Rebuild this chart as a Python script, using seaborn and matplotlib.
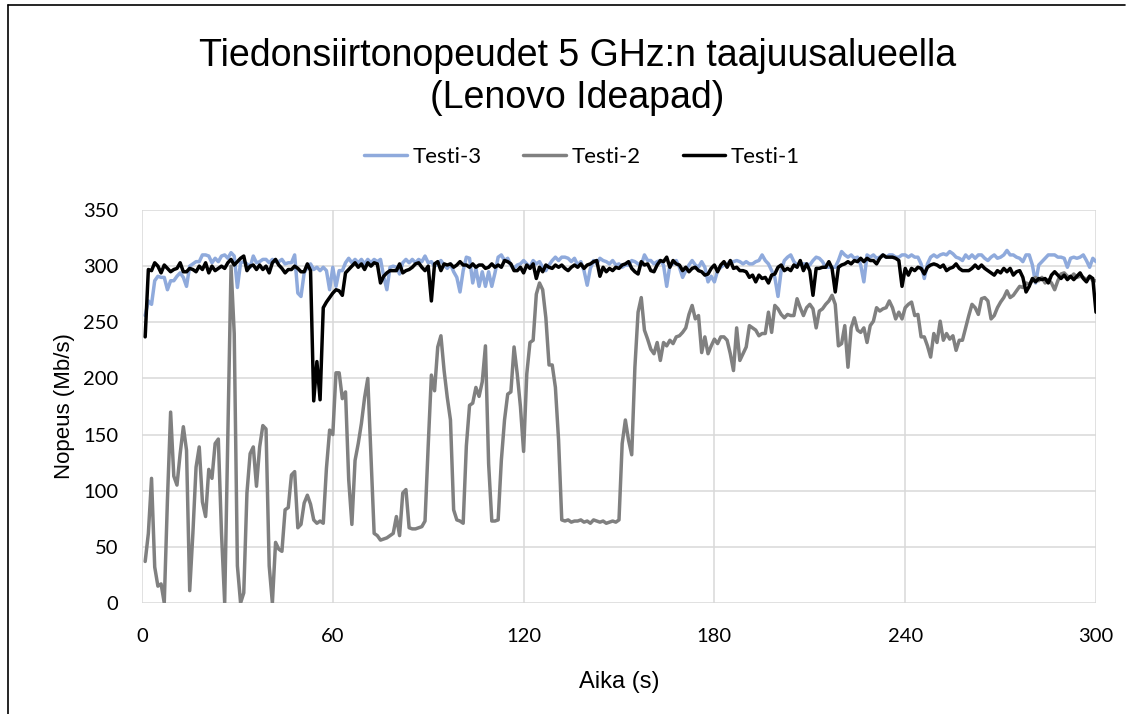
import numpy as np
import pandas as pd
import matplotlib
matplotlib.use("Agg")
import matplotlib.pyplot as plt
from matplotlib.lines import Line2D
import seaborn as sns

# Measured throughput (Mb/s), one sample per second, t = 1..300 s
testi_1 = [
    237, 297, 296, 303, 300, 294, 301, 298, 295, 297,
    298, 303, 295, 295, 298, 297, 295, 300, 297, 303,
    294, 300, 296, 298, 300, 298, 303, 306, 301, 304,
    307, 309, 296, 300, 301, 297, 301, 297, 300, 294,
    303, 306, 301, 298, 294, 297, 297, 300, 298, 295,
    295, 302, 296, 180, 215, 181, 263, 268, 272, 276,
    279, 278, 274, 294, 297, 300, 303, 299, 302, 297,
    303, 300, 303, 302, 285, 291, 294, 296, 296, 296,
    302, 294, 296, 297, 299, 302, 303, 299, 296, 300,
    269, 302, 304, 296, 302, 301, 302, 299, 301, 304,
    301, 301, 299, 302, 299, 301, 301, 298, 299, 302,
    299, 301, 299, 305, 304, 302, 296, 296, 299, 294,
    301, 298, 302, 289, 299, 295, 301, 299, 298, 301,
    299, 301, 298, 296, 299, 301, 299, 302, 298, 301,
    302, 304, 305, 291, 299, 295, 298, 296, 299, 298,
    301, 302, 304, 298, 295, 293, 304, 301, 302, 296,
    295, 301, 305, 304, 308, 299, 305, 302, 301, 296,
    299, 295, 298, 299, 296, 295, 292, 293, 298, 301,
    295, 301, 304, 299, 305, 298, 299, 296, 296, 295,
    290, 292, 286, 292, 289, 290, 285, 292, 293, 299,
    301, 296, 298, 296, 301, 299, 305, 296, 302, 296,
    274, 298, 298, 299, 299, 304, 298, 277, 299, 301,
    302, 304, 302, 305, 304, 307, 304, 307, 305, 305,
    302, 307, 310, 308, 308, 308, 307, 305, 282, 298,
    292, 298, 296, 299, 298, 293, 299, 301, 302, 301,
    299, 301, 296, 298, 299, 302, 298, 296, 296, 296,
    298, 301, 298, 301, 298, 296, 294, 292, 296, 294,
    298, 295, 298, 292, 295, 296, 290, 277, 282, 289,
    286, 289, 288, 289, 285, 292, 295, 292, 289, 292,
    288, 291, 288, 291, 294, 289, 286, 291, 289, 259,
]

testi_2 = [
    37, 62, 111, 32, 15, 17, 0, 92, 170, 113,
    105, 133, 157, 136, 11, 62, 121, 139, 90, 77,
    119, 111, 142, 146, 62, 0, 151, 300, 240, 33,
    0, 9, 98, 133, 139, 104, 139, 158, 155, 33,
    0, 54, 48, 46, 83, 85, 114, 117, 67, 70,
    89, 96, 88, 74, 71, 73, 71, 120, 154, 150,
    205, 205, 182, 188, 110, 70, 127, 142, 160, 183,
    200, 130, 62, 60, 56, 57, 58, 60, 62, 77,
    60, 98, 101, 67, 66, 66, 67, 68, 73, 140,
    203, 189, 228, 238, 207, 183, 163, 83, 74, 73,
    71, 140, 176, 178, 192, 184, 197, 229, 124, 73,
    73, 74, 127, 163, 186, 188, 228, 204, 175, 135,
    204, 232, 234, 275, 285, 279, 254, 212, 212, 192,
    145, 74, 73, 74, 72, 73, 73, 74, 72, 73,
    71, 74, 73, 72, 73, 71, 72, 73, 72, 74,
    142, 163, 145, 132, 210, 259, 272, 243, 235, 226,
    222, 232, 216, 232, 229, 234, 231, 237, 238, 241,
    245, 257, 265, 253, 256, 223, 237, 222, 229, 235,
    231, 237, 237, 234, 222, 207, 245, 216, 222, 228,
    247, 245, 243, 238, 240, 240, 259, 241, 265, 262,
    257, 254, 257, 256, 256, 271, 263, 256, 263, 266,
    262, 245, 260, 262, 266, 269, 274, 266, 229, 231,
    247, 210, 245, 254, 243, 241, 245, 232, 247, 251,
    263, 260, 262, 263, 269, 263, 253, 259, 253, 263,
    266, 268, 256, 257, 237, 237, 229, 219, 240, 232,
    251, 234, 240, 235, 238, 225, 234, 234, 245, 256,
    266, 263, 257, 271, 272, 269, 253, 256, 263, 268,
    272, 278, 272, 274, 278, 282, 281, 285, 284, 287,
    290, 287, 290, 285, 288, 285, 279, 287, 293, 294,
    291, 290, 293, 290, 291, 290, 288, 291, 287, 287,
]

testi_3 = [
    256, 269, 266, 287, 291, 290, 290, 279, 287, 287,
    291, 294, 290, 282, 300, 302, 304, 304, 310, 310,
    309, 303, 307, 304, 309, 310, 307, 312, 309, 281,
    303, 304, 302, 299, 309, 303, 304, 306, 306, 303,
    306, 304, 304, 306, 302, 303, 303, 310, 276, 273,
    294, 299, 302, 297, 299, 296, 299, 296, 279, 299,
    282, 296, 296, 303, 307, 303, 306, 303, 306, 302,
    306, 303, 306, 304, 306, 291, 279, 299, 300, 299,
    293, 303, 306, 303, 306, 303, 306, 304, 309, 303,
    304, 300, 302, 305, 301, 298, 302, 295, 290, 277,
    296, 308, 307, 285, 298, 282, 295, 282, 295, 282,
    294, 308, 310, 305, 307, 301, 298, 301, 302, 305,
    302, 299, 305, 302, 304, 299, 296, 301, 305, 308,
    305, 308, 308, 307, 304, 307, 301, 304, 296, 283,
    298, 305, 302, 307, 305, 304, 302, 305, 301, 302,
    299, 301, 301, 305, 304, 302, 301, 310, 305, 305,
    302, 304, 305, 301, 282, 301, 302, 305, 299, 290,
    296, 301, 305, 301, 299, 304, 299, 286, 291, 286,
    296, 299, 301, 302, 304, 304, 305, 304, 302, 304,
    302, 302, 304, 305, 310, 305, 302, 296, 290, 273,
    296, 305, 308, 310, 304, 301, 302, 302, 302, 301,
    305, 308, 307, 304, 299, 299, 299, 299, 305, 313,
    310, 308, 310, 307, 308, 301, 286, 310, 308, 310,
    307, 308, 310, 308, 310, 310, 308, 308, 310, 310,
    308, 310, 308, 308, 302, 289, 302, 308, 310, 308,
    310, 311, 310, 313, 311, 308, 307, 305, 310, 307,
    310, 307, 310, 310, 307, 305, 308, 310, 307, 308,
    310, 314, 310, 310, 308, 307, 304, 310, 310, 301,
    285, 301, 304, 307, 310, 310, 310, 308, 308, 307,
    299, 307, 308, 307, 308, 310, 305, 299, 307, 304,
]

series_names = ["Testi-3", "Testi-2", "Testi-1"]
series_values = [testi_3, testi_2, testi_1]
series_colors = ["#8faadc", "#808080", "#000000"]
x_ticks = [0, 60, 120, 180, 240, 300]
y_ticks = [0, 50, 100, 150, 200, 250, 300, 350]

title_text = "Tiedonsiirtonopeudet 5 GHz:n taajuusalueella\n(Lenovo Ideapad)"
x_label = "Aika (s)"
y_label = "Nopeus (Mb/s)"

frames = []
for name, values in zip(series_names, series_values):
    frames.append(pd.DataFrame({
        "Aika": np.arange(1, len(values) + 1),
        "Nopeus": values,
        "Sarja": name,
    }))
data = pd.concat(frames, ignore_index=True)

sns.set_theme(style="white")
plt.rcParams["font.family"] = ["Liberation Sans", "DejaVu Sans"]
plt.rcParams["text.color"] = "black"
plt.rcParams["axes.labelcolor"] = "black"

fig = plt.figure(figsize=(11.3, 7.14), dpi=100)
ax = fig.add_axes([142 / 1130, 1 - 603 / 714, (1096 - 142) / 1130, (603 - 210) / 714])

sns.lineplot(
    data=data, x="Aika", y="Nopeus", hue="Sarja",
    hue_order=series_names, palette=series_colors,
    linewidth=2.5, estimator=None, sort=False, legend=False, ax=ax,
)

ax.set_xlim(0, 300)
ax.set_ylim(0, 350)
ax.set_xticks(x_ticks)
ax.set_yticks(y_ticks)
ax.grid(True, color="#d9d9d9", linewidth=1.1)
ax.set_axisbelow(True)
for side in ax.spines.values():
    side.set_visible(False)
ax.tick_params(axis="both", length=0, labelsize=14.5, colors="black")
ax.tick_params(axis="x", pad=18)
ax.tick_params(axis="y", pad=17)
for lbl in ax.get_xticklabels() + ax.get_yticklabels():
    lbl.set_family(["Lato", "DejaVu Sans"])
ax.set_xlabel(x_label, fontsize=17, labelpad=19)
ax.set_ylabel(y_label, fontsize=16, labelpad=6)

fig.text(0.511, 1 - 77 / 714, title_text, ha="center", va="center",
         fontsize=27, linespacing=1.2)

handles = [Line2D([0], [0], color=c, lw=2.5) for c in series_colors]
fig.legend(handles, series_names, loc="center", bbox_to_anchor=(0.515, 1 - 157 / 714),
           ncol=3, frameon=False, handlelength=1.9, handletextpad=0.25,
           columnspacing=1.9, prop={"family": ["Lato", "DejaVu Sans"], "size": 16})

# Chart-area frame
fig.add_artist(Line2D([8 / 1130, 8 / 1130], [0, 1 - 5 / 714], color="black", lw=1.2))
fig.add_artist(Line2D([8 / 1130, 1125 / 1130], [1 - 5 / 714, 1 - 5 / 714], color="black", lw=1.2))

fig.savefig("out.png", dpi=100)
